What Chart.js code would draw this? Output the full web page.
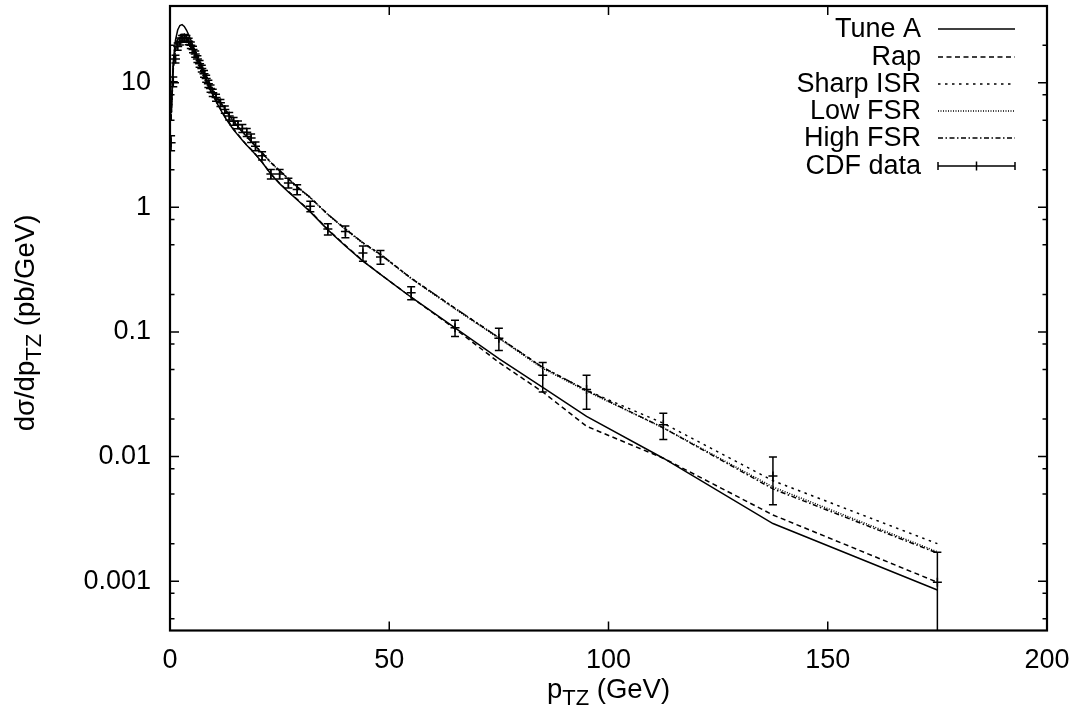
<!DOCTYPE html>
<html>
<head>
<meta charset="utf-8">
<script src="https://cdn.jsdelivr.net/npm/chart.js@4.4.0/dist/chart.umd.min.js"></script>
<style>
html,body{margin:0;padding:0;background:#fff;}
#wrap{width:1078px;height:721px;position:relative;}
</style>
</head>
<body>
<div id="wrap"><canvas id="c" width="1078" height="721"></canvas></div>
<script>
// ---- data ----
const pT = [0.25,0.75,1.25,1.75,2.25,2.75,3.25,3.75,4.25,4.75,5.25,5.75,6.25,6.75,7.25,7.75,8.25,8.75,9.25,9.75,
  10.5,11.5,12.5,13.5,14.5,15.5,16.5,17.5,18.5,19.5,21,23,25,27,29,32,36,40,44,48,55,65,75,85,95,112.5,137.5,175];

const cdfData = [3.3,10.2,15.5,19.5,21.5,22.5,23,22.5,21.5,20,18.5,17,15.5,14.2,13,11.8,10.8,9.8,9.0,8.3,
  7.6,6.9,6.1,5.4,4.9,4.6,4.3,4.0,3.6,3.1,2.6,1.85,1.85,1.57,1.39,1.02,0.67,0.64,0.43,0.40,
  0.206,0.108,0.089,0.045,0.0345,0.018,0.0070,0.00098];
const cdfErr = [0.45,0.9,1.1,1.3,1.4,1.4,1.4,1.4,1.3,1.2,1.1,1.0,0.95,0.9,0.8,0.75,0.7,0.65,0.6,0.55,
  0.5,0.45,0.4,0.38,0.35,0.33,0.32,0.3,0.28,0.25,0.2,0.16,0.16,0.14,0.13,0.1,0.07,0.07,0.06,0.05,
  0.025,0.016,0.018,0.012,0.0105,0.0043,0.0029,0.00073];

const tuneA = [6,15,22,26.5,28.8,29.3,28.3,26.5,24.3,22,19.8,17.8,16,14.4,13,11.7,10.6,9.6,8.8,8.0,
  7.1,6.1,5.3,4.7,4.2,3.8,3.45,3.15,2.9,2.65,2.3,1.85,1.55,1.33,1.15,0.92,0.66,0.49,0.37,0.29,
  0.19,0.108,0.061,0.036,0.021,0.0097,0.0029,0.00085];
const rap = [5,13.5,19.5,22.5,24,24.5,24,23,21.6,20,18.4,16.8,15.3,13.9,12.7,11.5,10.5,9.6,8.8,8.1,
  7.2,6.2,5.4,4.8,4.25,3.85,3.47,3.17,2.92,2.67,2.31,1.86,1.56,1.34,1.16,0.93,0.665,0.495,0.372,0.29,
  0.19,0.106,0.057,0.033,0.0175,0.0097,0.0034,0.00098];
const sharpISR = [5,13,18.5,21.5,23,23.8,23.8,23,21.8,20.3,18.8,17.3,15.9,14.6,13.4,12.3,11.3,10.4,9.6,8.9,
  8.0,7.0,6.2,5.5,4.95,4.45,4.05,3.7,3.4,3.1,2.75,2.3,1.98,1.7,1.46,1.2,0.88,0.67,0.52,0.42,
  0.27,0.155,0.09,0.052,0.034,0.0185,0.0064,0.0020];
const lowFSR = [5.3,13.5,19,22,23.5,24.2,24,23.2,22,20.4,18.8,17.2,15.8,14.5,13.3,12.2,11.2,10.3,9.5,8.8,
  7.9,6.95,6.15,5.45,4.9,4.42,4.02,3.68,3.38,3.08,2.73,2.28,1.96,1.69,1.45,1.19,0.875,0.665,0.515,0.415,
  0.268,0.153,0.089,0.051,0.0335,0.017,0.0057,0.00172];
const highFSR = [5.1,12.8,18.3,21.3,22.8,23.5,23.5,22.8,21.6,20.2,18.7,17.2,15.8,14.5,13.3,12.2,11.2,10.3,9.5,8.8,
  7.95,6.98,6.18,5.48,4.92,4.43,4.03,3.69,3.39,3.09,2.74,2.29,1.97,1.7,1.46,1.2,0.88,0.67,0.52,0.42,
  0.27,0.155,0.09,0.052,0.034,0.017,0.0055,0.00168];

const seriesNames = ['Tune A','Rap','Sharp ISR','Low FSR','High FSR','CDF data'];
const xTickValues = [0,50,100,150,200];
const yTickValues = [0.001,0.01,0.1,1,10];
const yTickLabels = ['0.001','0.01','0.1','1','10'];
const yMinorMultipliers = [2,5,8];

// ---- helpers ----
const FONT = '"Liberation Sans", Arial, sans-serif';
const FS = 27;
const pts = arr => arr.map((v,i)=>({x:pT[i], y:v}));
const lineDs = (label, arr, dash) => ({
  label, data: pts(arr), borderColor:'#000', backgroundColor:'#000', borderWidth:1.5,
  borderDash: dash, pointRadius:0, tension:0, fill:false, showLine:true
});

const frameAndTicks = {
  id:'frameAndTicks',
  afterDraw(chart){
    const {ctx, chartArea:a, scales:{x,y}} = chart;
    ctx.save();
    ctx.strokeStyle='#000';
    ctx.lineWidth=1.5;
    ctx.beginPath();
    xTickValues.forEach(v=>{
      const px = x.getPixelForValue(v);
      ctx.moveTo(px,a.bottom); ctx.lineTo(px,a.bottom-9);
      ctx.moveTo(px,a.top); ctx.lineTo(px,a.top+9);
    });
    yTickValues.forEach(v=>{
      const py = y.getPixelForValue(v);
      ctx.moveTo(a.left,py); ctx.lineTo(a.left+9,py);
      ctx.moveTo(a.right,py); ctx.lineTo(a.right-9,py);
    });
    [0.0001,0.001,0.01,0.1,1,10].forEach(d=>{
      yMinorMultipliers.forEach(m=>{
        const v=d*m;
        if(v<y.min||v>y.max) return;
        const py=y.getPixelForValue(v);
        ctx.moveTo(a.left,py); ctx.lineTo(a.left+4.5,py);
        ctx.moveTo(a.right,py); ctx.lineTo(a.right-4.5,py);
      });
    });
    ctx.stroke();
    ctx.lineWidth=2.2;
    ctx.strokeRect(a.left,a.top,a.right-a.left,a.bottom-a.top);

    // axis titles with subscripts
    ctx.fillStyle='#000';
    const TF = 27.5, sub = 22;
    ctx.textBaseline='alphabetic';
    ctx.textAlign='left';
    const parts=[['p',TF,0],['TZ',sub,7],[' (GeV)',TF,0]];
    let w=0;
    parts.forEach(p=>{ctx.font=p[1]+'px '+FONT; w+=ctx.measureText(p[0]).width;});
    let cx=(a.left+a.right)/2 - w/2;
    const by=698;
    parts.forEach(p=>{ctx.font=p[1]+'px '+FONT; ctx.fillText(p[0],cx,by+p[2]); cx+=ctx.measureText(p[0]).width;});
    const yparts=[['d\u03c3/dp',TF,0],['TZ',sub,7],[' (pb/GeV)',TF,0]];
    ctx.save();
    ctx.translate(34,323);
    ctx.rotate(-Math.PI/2);
    w=0;
    yparts.forEach(p=>{ctx.font=p[1]+'px '+FONT; w+=ctx.measureText(p[0]).width;});
    cx=-w/2;
    yparts.forEach(p=>{ctx.font=p[1]+'px '+FONT; ctx.fillText(p[0],cx,p[2]); cx+=ctx.measureText(p[0]).width;});
    ctx.restore();

    // legend
    const textRight=921, s0=938, s1=1015, rowY=[29,57,84,111,138,166];
    ctx.font=FS+'px '+FONT;
    ctx.textAlign='right';
    ctx.textBaseline='middle';
    chart.data.datasets.forEach((ds,i)=>{
      const ly=rowY[i];
      ctx.fillText(ds.label,textRight,ly+1);
      ctx.save();
      ctx.lineWidth=1.5;
      ctx.beginPath();
      if(i<5){
        ctx.setLineDash(ds.borderDash||[]);
        ctx.moveTo(s0,ly); ctx.lineTo(s1,ly);
      } else {
        ctx.moveTo(s0,ly); ctx.lineTo(s1,ly);
        ctx.moveTo(s0,ly-4); ctx.lineTo(s0,ly+4);
        ctx.moveTo(s1,ly-4); ctx.lineTo(s1,ly+4);
        const m=(s0+s1)/2;
        ctx.moveTo(m,ly-4.5); ctx.lineTo(m,ly+4.5);
      }
      ctx.stroke();
      ctx.restore();
    });
    ctx.restore();
  }
};

const errorBars = {
  id:'errorBars',
  afterDatasetsDraw(chart){
    const {ctx, chartArea:a, scales:{x,y}} = chart;
    ctx.save();
    ctx.beginPath();
    ctx.rect(a.left,a.top,a.right-a.left,a.bottom-a.top);
    ctx.clip();
    ctx.strokeStyle='#000';
    ctx.lineWidth=1.5;
    ctx.beginPath();
    cdfData.forEach((v,i)=>{
      const px=x.getPixelForValue(pT[i]);
      const hi=v+cdfErr[i], lo=v-cdfErr[i];
      const pyH=y.getPixelForValue(hi);
      const pyL=lo>0?y.getPixelForValue(lo):a.bottom+10;
      ctx.moveTo(px,pyH); ctx.lineTo(px,pyL);
      ctx.moveTo(px-4,pyH); ctx.lineTo(px+4,pyH);
      ctx.moveTo(px-4,pyL); ctx.lineTo(px+4,pyL);
    });
    ctx.stroke();
    ctx.restore();
  }
};

new Chart(document.getElementById('c'),{
  type:'line',
  data:{datasets:[
    lineDs(seriesNames[0], tuneA, []),
    lineDs(seriesNames[1], rap, [5,3.5]),
    lineDs(seriesNames[2], sharpISR, [2.5,4.5]),
    lineDs(seriesNames[3], lowFSR, [1,1.5]),
    lineDs(seriesNames[4], highFSR, [5,2.5,1.5,2.5]),
    {label:seriesNames[5], data:pts(cdfData), showLine:false, borderColor:'#000', backgroundColor:'#000',
     pointStyle:'cross', pointRadius:4.5, borderWidth:1.5, pointHoverRadius:4.5}
  ]},
  options:{
    responsive:false, animation:false, events:[],
    layout:{padding:{top:4,right:31,left:0,bottom:0}},
    plugins:{legend:{display:false}, tooltip:{enabled:false}},
    scales:{
      x:{type:'linear', min:0, max:200,
        grid:{display:false, drawTicks:false}, border:{display:false},
        afterBuildTicks(s){ s.ticks = xTickValues.map(v=>({value:v})); },
        afterFit(s){ s.height = 90.5; s.paddingLeft=0; s.paddingRight=0; },
        ticks:{color:'#000', font:{family:FONT,size:FS}, padding:14, maxRotation:0, autoSkip:false,
          callback:v=>String(v)}
      },
      y:{type:'logarithmic', min:0.000402, max:41.3,
        grid:{display:false, drawTicks:false}, border:{display:false},
        afterBuildTicks(s){ s.ticks = yTickValues.map(v=>({value:v})); },
        afterFit(s){ s.width = 170; s.paddingTop=0; s.paddingBottom=0; },
        ticks:{color:'#000', font:{family:FONT,size:FS}, padding:19, autoSkip:false,
          callback:(v)=>{const i=yTickValues.findIndex(t=>Math.abs(t-v)/t<1e-6); return i>=0?yTickLabels[i]:'';}}
      }
    }
  },
  plugins:[errorBars, frameAndTicks]
});
</script>
</body>
</html>
